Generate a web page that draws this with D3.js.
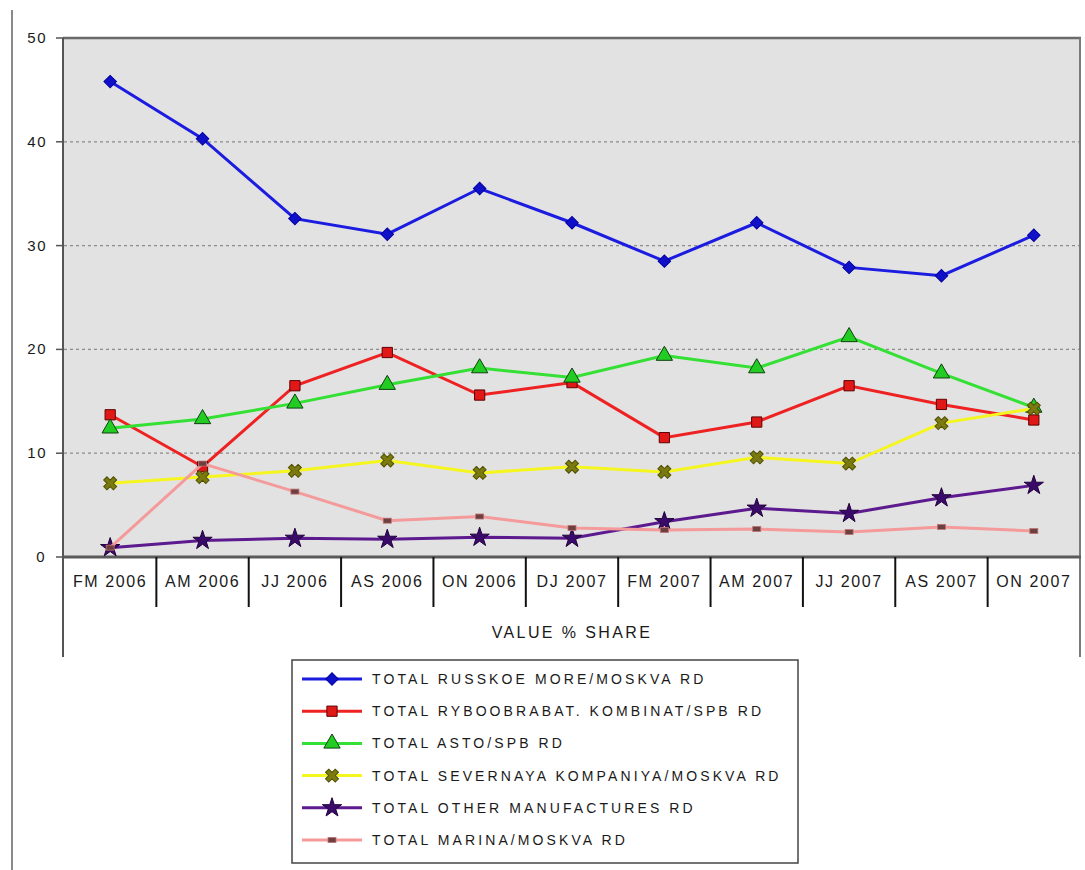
<!DOCTYPE html>
<html>
<head>
<meta charset="utf-8">
<script src="https://cdn.jsdelivr.net/npm/d3@7"></script>
<style>
  body { margin: 0; background: #fff; }
  text { font-family: "Liberation Sans", Arial, sans-serif; fill: #1a1a1a; }
</style>
</head>
<body>
<script>
const categories = ['FM 2006', 'AM 2006', 'JJ 2006', 'AS 2006', 'ON 2006', 'DJ 2007',
  'FM 2007', 'AM 2007', 'JJ 2007', 'AS 2007', 'ON 2007'];

const russkoeMore = [45.8, 40.3, 32.6, 31.1, 35.5, 32.2, 28.5, 32.2, 27.9, 27.1, 31.0];
const ryboobrabat = [13.7, 8.7, 16.5, 19.7, 15.6, 16.8, 11.5, 13.0, 16.5, 14.7, 13.2];
const asto = [12.4, 13.3, 14.8, 16.6, 18.2, 17.3, 19.4, 18.2, 21.2, 17.7, 14.4];
const severnaya = [7.1, 7.7, 8.3, 9.3, 8.1, 8.7, 8.2, 9.6, 9.0, 12.9, 14.3];
const otherManuf = [0.9, 1.6, 1.8, 1.7, 1.9, 1.8, 3.4, 4.7, 4.2, 5.7, 6.9];
const marina = [0.9, 9.0, 6.3, 3.5, 3.9, 2.8, 2.6, 2.7, 2.4, 2.9, 2.5];

const seriesNames = [
  'TOTAL RUSSKOE MORE/MOSKVA RD',
  'TOTAL RYBOOBRABAT. KOMBINAT/SPB RD',
  'TOTAL ASTO/SPB RD',
  'TOTAL SEVERNAYA KOMPANIYA/MOSKVA RD',
  'TOTAL OTHER MANUFACTURES RD',
  'TOTAL MARINA/MOSKVA RD'
];
const yTicks = [0, 10, 20, 30, 40, 50];
const axisTitle = 'VALUE % SHARE';

const series = [
  { name: seriesNames[0], values: russkoeMore, color: '#1c1ce0', marker: 'diamond', fill: '#1010c8', stroke: '#0000a0' },
  { name: seriesNames[1], values: ryboobrabat, color: '#ee2222', marker: 'square', fill: '#e01818', stroke: '#600000' },
  { name: seriesNames[2], values: asto, color: '#33e033', marker: 'triangle', fill: '#22cc22', stroke: '#104010' },
  { name: seriesNames[3], values: severnaya, color: '#f5f520', marker: 'x', fill: '#7a7a10', stroke: '#505000' },
  { name: seriesNames[4], values: otherManuf, color: '#5c1a8e', marker: 'star', fill: '#3a0a6a', stroke: '#20003a' },
  { name: seriesNames[5], values: marina, color: '#f59a9a', marker: 'dash', fill: '#6a4040', stroke: '#f59a9a' }
];

const width = 1085;
const height = 870;
const plot = { left: 64, right: 1080, top: 38, bottom: 557 };

const svg = d3.select('body').append('svg')
  .attr('width', width)
  .attr('height', height);

const x = d3.scaleBand().domain(categories).range([plot.left, plot.right]);
const y = d3.scaleLinear().domain([0, 50]).range([plot.bottom, plot.top]);

// outer frame line on the left
svg.append('line')
  .attr('x1', 12).attr('x2', 12).attr('y1', 10).attr('y2', height)
  .attr('stroke', '#8a8a8a').attr('stroke-width', 2);

svg.append('rect')
  .attr('x', plot.left).attr('y', plot.top)
  .attr('width', plot.right - plot.left).attr('height', plot.bottom - plot.top)
  .attr('fill', '#e2e2e2');

// gridlines
svg.append('g')
  .selectAll('line')
  .data(yTicks.filter(t => t > 0 && t < 50))
  .enter().append('line')
  .attr('x1', plot.left).attr('x2', plot.right)
  .attr('y1', d => y(d)).attr('y2', d => y(d))
  .attr('stroke', '#8c8c8c')
  .attr('stroke-width', 1.2)
  .attr('stroke-dasharray', '3,3');

// frame of plot
svg.append('line')
  .attr('x1', plot.left - 1).attr('x2', plot.right + 1).attr('y1', plot.top).attr('y2', plot.top)
  .attr('stroke', '#6a6a6a').attr('stroke-width', 2.5);
svg.append('line')
  .attr('x1', plot.right).attr('x2', plot.right).attr('y1', plot.top).attr('y2', 657)
  .attr('stroke', '#7a7a7a').attr('stroke-width', 2);
svg.append('line')
  .attr('x1', plot.left - 1).attr('x2', plot.left - 1).attr('y1', plot.top).attr('y2', 657)
  .attr('stroke', '#555').attr('stroke-width', 2);
svg.append('line')
  .attr('x1', plot.left - 1).attr('x2', plot.right + 1).attr('y1', plot.bottom).attr('y2', plot.bottom)
  .attr('stroke', '#5a5a5a').attr('stroke-width', 3);

// y axis ticks and labels
const yAxis = svg.append('g');
yAxis.selectAll('line')
  .data(yTicks)
  .enter().append('line')
  .attr('x1', plot.left - 8).attr('x2', plot.left)
  .attr('y1', d => y(d)).attr('y2', d => y(d))
  .attr('stroke', '#555').attr('stroke-width', 1.5);
yAxis.selectAll('text')
  .data(yTicks)
  .enter().append('text')
  .attr('x', d => d === 0 ? 46 : 47)
  .attr('y', d => y(d) + 5)
  .attr('text-anchor', 'end')
  .attr('font-size', 15)
  .attr('letter-spacing', 1.5)
  .text(d => d);

// category separators and labels
svg.append('g')
  .selectAll('line')
  .data(categories.slice(1))
  .enter().append('line')
  .attr('x1', d => x(d)).attr('x2', d => x(d))
  .attr('y1', plot.bottom).attr('y2', 607)
  .attr('stroke', '#111').attr('stroke-width', 2);

svg.append('g')
  .selectAll('text')
  .data(categories)
  .enter().append('text')
  .attr('x', d => x(d) + x.bandwidth() / 2)
  .attr('y', 587)
  .attr('text-anchor', 'middle')
  .attr('font-size', 16)
  .attr('letter-spacing', 1.6)
  .text(d => d);

svg.append('text')
  .attr('x', (plot.left + plot.right) / 2)
  .attr('y', 638)
  .attr('text-anchor', 'middle')
  .attr('font-size', 16)
  .attr('letter-spacing', 2.4)
  .text(axisTitle);

function drawMarker(sel, s) {
  if (s.marker === 'dash') {
    sel.append('rect')
      .attr('x', -4).attr('y', -2.5).attr('width', 8).attr('height', 5)
      .attr('fill', s.fill).attr('stroke', '#c07070').attr('stroke-width', 0.8);
    return;
  }
  let path, rot = 0;
  if (s.marker === 'diamond') { path = d3.symbol(d3.symbolSquare, 78)(); rot = 45; }
  if (s.marker === 'square') path = d3.symbol(d3.symbolSquare, 105)();
  if (s.marker === 'triangle') path = d3.symbol(d3.symbolTriangle, 115)();
  if (s.marker === 'star') path = d3.symbol(d3.symbolStar, 115)();
  if (s.marker === 'x') { path = d3.symbol(d3.symbolCross, 105)(); rot = 45; }
  sel.append('path')
    .attr('d', path)
    .attr('transform', `rotate(${rot})`)
    .attr('fill', s.fill)
    .attr('stroke', s.stroke)
    .attr('stroke-width', 1);
}

const line = d3.line()
  .x((d, i) => x(categories[i]) + x.bandwidth() / 2)
  .y(d => y(d));

series.forEach(s => {
  const g = svg.append('g');
  g.append('path')
    .datum(s.values)
    .attr('d', line)
    .attr('fill', 'none')
    .attr('stroke', s.color)
    .attr('stroke-width', 3);
  g.selectAll('.pt')
    .data(s.values)
    .enter().append('g')
    .attr('class', 'pt')
    .attr('transform', (d, i) => `translate(${x(categories[i]) + x.bandwidth() / 2},${y(d)})`)
    .each(function () { drawMarker(d3.select(this), s); });
});

// legend
const legend = svg.append('g');
legend.append('rect')
  .attr('x', 292).attr('y', 660).attr('width', 506).attr('height', 203)
  .attr('fill', '#fff').attr('stroke', '#444').attr('stroke-width', 1.5);

const rowY = d3.scalePoint().domain(seriesNames).range([679, 840]);

series.forEach(s => {
  const row = legend.append('g').attr('transform', `translate(0,${rowY(s.name)})`);
  row.append('line')
    .attr('x1', 302).attr('x2', 362)
    .attr('stroke', s.color).attr('stroke-width', 3);
  const m = row.append('g').attr('transform', 'translate(332,0)');
  drawMarker(m, s);
  row.append('text')
    .attr('x', 372).attr('y', 5)
    .attr('font-size', 14)
    .attr('letter-spacing', 3.1)
    .text(s.name);
});
</script>
</body>
</html>
